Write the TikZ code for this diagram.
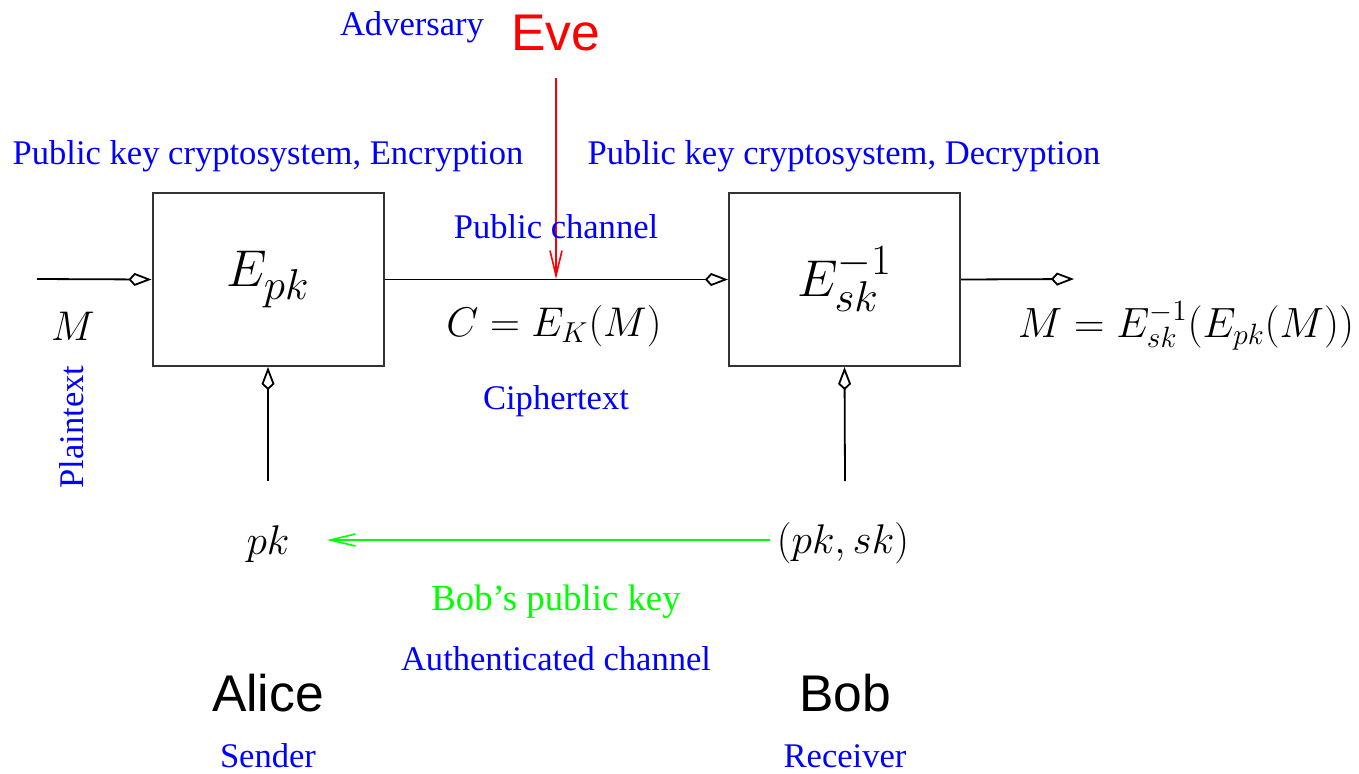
\documentclass[tikz,border=0pt]{standalone}
\usepackage{fontspec}
\setmainfont{Liberation Serif}
\setsansfont{Liberation Sans}
\usetikzlibrary{arrows.meta}
\begin{document}
\begin{tikzpicture}[x=0.5pt,y=-0.5pt,
  lbl/.style={text=blue,inner sep=0pt,font=\fontsize{17.28}{20}\selectfont},
  mth/.style={inner sep=0pt,font=\fontsize{20.74}{24}\selectfont},
  who/.style={inner sep=0pt,font=\sffamily\fontsize{25.8}{30}\selectfont},
  boxnode/.style={draw=black!80,line width=1pt,minimum width=115.5pt,minimum height=86.5pt,inner sep=0pt,font=\fontsize{24.88}{28}\selectfont},
  wire/.style={line width=0.9pt,-{Kite[open,length=11.5pt,width=6.5pt,inset=3pt,line width=0.9pt]}},
  barb/.style={line width=0.8pt,-{Straight Barb[length=12.5pt,width=6pt,line width=0.8pt]}}
]
\useasboundingbox (0,0) rectangle (1359,773);
\node[boxnode] (enc) at (268,279.5) {\scalebox{1.04}{$E_{pk}$}};
\node[boxnode] (dec) at (844.5,279.5) {\scalebox{1.04}{$E_{sk}^{-1}$}};
\coordinate (inM) at (37,279);
\coordinate (outM) at (1074,279);
\coordinate (pkin) at (268,481);
\coordinate (skin) at (845,481);
\coordinate (evetop) at (556,78);
\coordinate (evehit) at (556,279);
\coordinate (gstart) at (770,540);
\coordinate (gend) at (327,540);
\draw[wire] (inM) -- (enc.west);
\draw[wire] (enc.east) -- (dec.west);
\draw[wire] (dec.east) -- (outM);
\draw[wire] (pkin) -- (enc.south);
\draw[wire] (skin) -- (dec.south);
\draw[barb,red] (evetop) -- (evehit);
\draw[barb,green] (gstart) -- (gend);
\node[lbl] (adv) at (412,27) {Adversary};
\node[who,text=red] (eve) at (556,33) {Eve};
\node[lbl] (pkenc) at (268,156) {Public key cryptosystem, Encryption};
\node[lbl] (pkdec) at (844,156) {Public key cryptosystem, Decryption};
\node[lbl] (pubch) at (556,227) {Public channel};
\node[mth] (m) at (73,326) {$M$};
\node[mth] (c) at (554,326) {$C=E_K(M)$};
\node[mth] (mout) at (1186,326) {\scalebox{1.02}{$M=E_{sk}^{-1}(E_{pk}(M))$}};
\node[lbl,rotate=90] (plain) at (72,427) {Plaintext};
\node[lbl] (ciph) at (556,401) {Ciphertext};
\node[mth] (pk) at (268,544) {$pk$};
\node[mth] (pksk) at (843,543) {$(pk,sk)$};
\node[lbl,text=green,font=\fontsize{18.4}{22}\selectfont] (bobkey) at (556,602) {Bob's public key};
\node[lbl] (auth) at (556,659) {Authenticated channel};
\node[who] (alice) at (268,693) {Alice};
\node[who] (bob) at (845,693) {Bob};
\node[lbl] (sender) at (268,756) {Sender};
\node[lbl] (recv) at (845,756) {Receiver};
\end{tikzpicture}
\end{document}
